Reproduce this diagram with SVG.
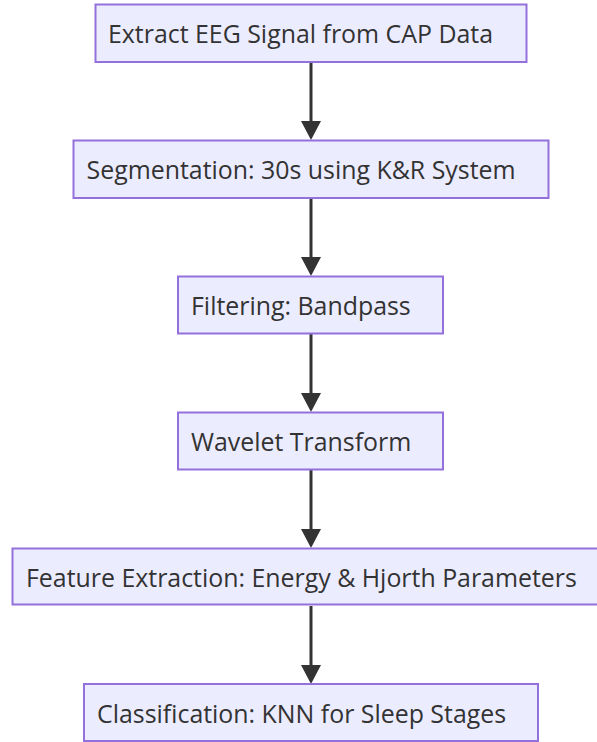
<svg xmlns="http://www.w3.org/2000/svg" width="597" height="742" viewBox="0 0 597 742">
<defs>
<style>
.node rect{fill:#ECECFF;stroke:#9370DB;stroke-width:2;}
.node text{font-family:"Open Sans","Noto Sans","Liberation Sans",sans-serif;font-size:24.9px;fill:#333333;}
.edge{stroke:#333333;stroke-width:3;fill:none;}
.head{fill:#333333;}
</style>
</defs>
<rect width="597" height="742" fill="#ffffff"/>
<g id="connectors">
<line class="edge" x1="311" y1="62" x2="311" y2="121"/>
<path class="head" d="M301,121 L321,121 L311,140 Z"/>
<line class="edge" x1="311" y1="198" x2="311" y2="257"/>
<path class="head" d="M301,257 L321,257 L311,276 Z"/>
<line class="edge" x1="311" y1="334" x2="311" y2="393"/>
<path class="head" d="M301,393 L321,393 L311,412 Z"/>
<line class="edge" x1="311" y1="470" x2="311" y2="529"/>
<path class="head" d="M301,529 L321,529 L311,548 Z"/>
<line class="edge" x1="311" y1="606" x2="311" y2="665"/>
<path class="head" d="M301,665 L321,665 L311,684 Z"/>
</g>
<g id="n1" class="node"><rect x="95.5" y="4.5" width="431" height="57.5"/><text x="108" y="43">Extract EEG Signal from CAP Data</text></g>
<g id="n2" class="node"><rect x="73.5" y="140.5" width="475" height="57.5"/><text x="86.5" y="179">Segmentation: 30s using K&amp;R System</text></g>
<g id="n3" class="node"><rect x="178" y="276.5" width="265" height="57"/><text x="191" y="315">Filtering: Bandpass</text></g>
<g id="n4" class="node"><rect x="178" y="412.5" width="265" height="57"/><text x="191" y="451">Wavelet Transform</text></g>
<g id="n5" class="node"><rect x="12.5" y="548.5" width="597" height="56"/><text x="26" y="587">Feature Extraction: Energy &amp; Hjorth Parameters</text></g>
<g id="n6" class="node"><rect x="84" y="684" width="454" height="57"/><text x="97" y="723">Classification: KNN for Sleep Stages</text></g>
</svg>
